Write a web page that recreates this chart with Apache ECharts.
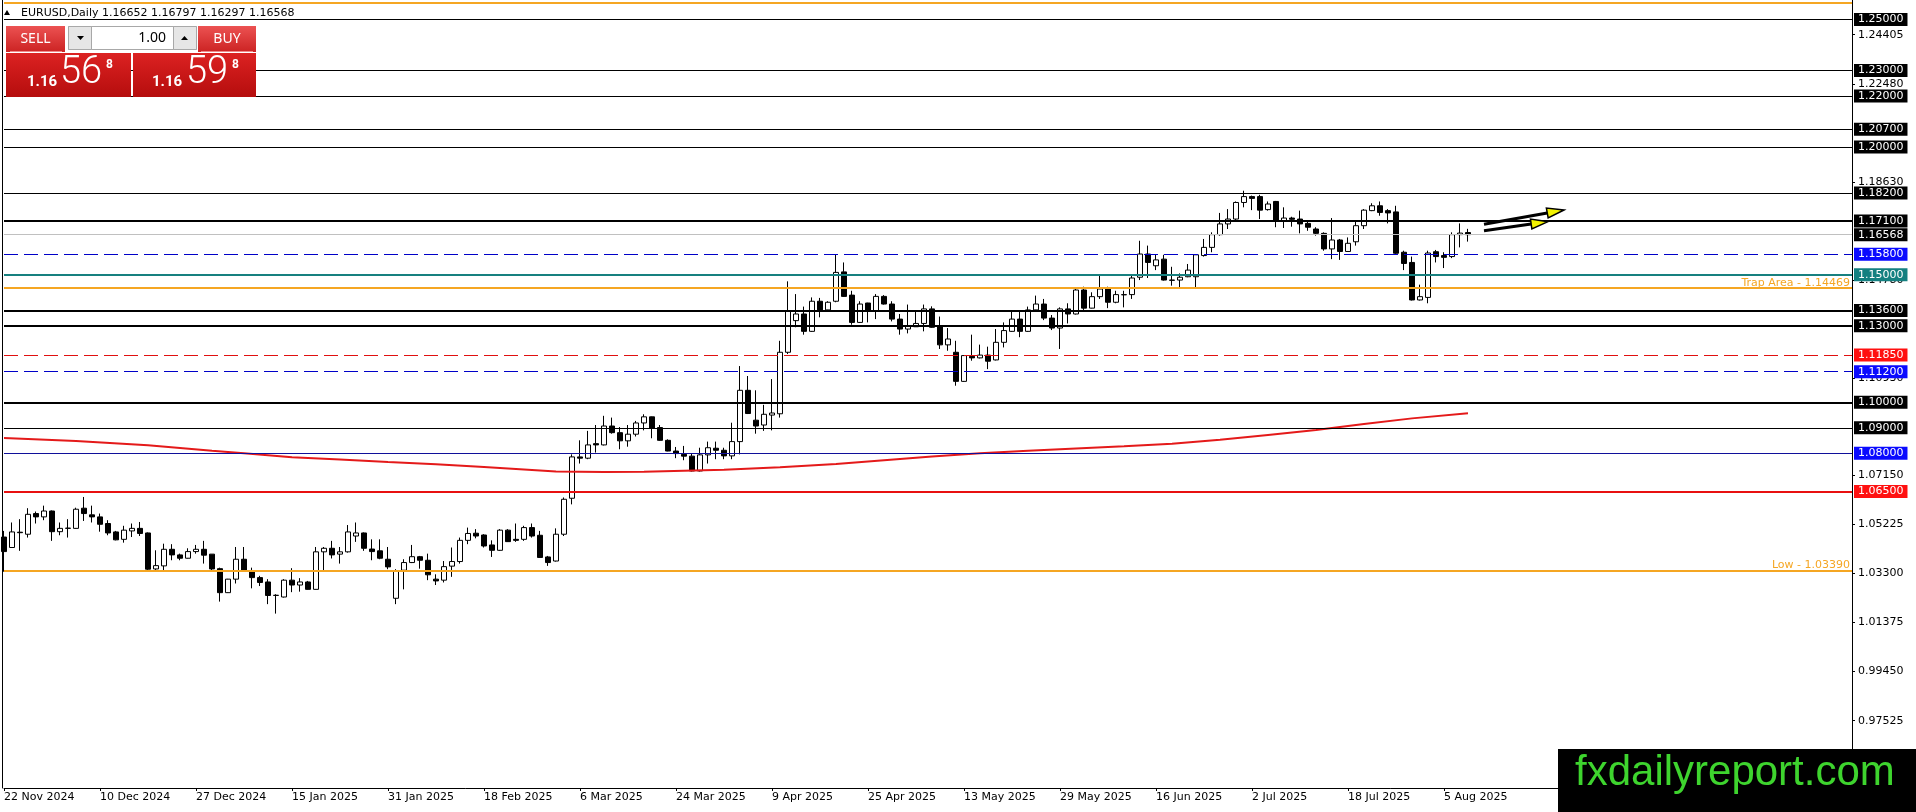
<!DOCTYPE html>
<html><head><meta charset="utf-8">
<script src="https://cdn.jsdelivr.net/npm/echarts@6/dist/echarts.min.js"></script>
<style>html,body{margin:0;padding:0;background:#fff;overflow:hidden}#c{width:1916px;height:812px}</style>
</head><body><div id="c"></div>
<script>
// ---------- data ----------
const dateLabels = ['22 Nov 2024','10 Dec 2024','27 Dec 2024','15 Jan 2025','31 Jan 2025','18 Feb 2025','6 Mar 2025','24 Mar 2025','9 Apr 2025','25 Apr 2025','13 May 2025','29 May 2025','16 Jun 2025','2 Jul 2025','18 Jul 2025','5 Aug 2025'];
const labelEvery = 12;
const slotCount = 232;

const opens = [1.0472,1.0431,1.0491,1.0483,1.0564,1.0551,1.0574,1.0493,1.0506,1.0506,
1.0585,1.0559,1.0551,1.0525,1.0492,1.0463,1.0496,1.0506,1.0488,1.0347,
1.0359,1.0424,1.0402,1.0389,1.0415,1.0424,1.0405,1.0348,1.0254,1.0307,
1.0385,1.0335,1.0313,1.0296,1.0243,1.0237,1.0303,1.0284,1.0296,1.0267,
1.0414,1.0428,1.0405,1.0414,1.0476,1.0488,1.0425,1.0418,1.0385,1.0232,
1.0342,1.0372,1.0395,1.0381,1.0307,1.0303,1.0358,1.0376,1.0459,1.0487,
1.0480,1.0441,1.0420,1.0499,1.0463,1.0463,1.0509,1.0479,1.0394,1.0378,
1.0483,1.0624,1.0786,1.0781,1.0838,1.0833,1.0907,1.0881,1.0849,1.0875,
1.0919,1.0943,1.0901,1.0851,1.0809,1.0796,1.0789,1.0731,1.0794,1.0820,
1.0812,1.0790,1.0846,1.1047,1.0930,1.0911,1.0950,1.0955,1.1196,1.1320,
1.1346,1.1278,1.1396,1.1362,1.1396,1.1511,1.1420,1.1313,1.1389,1.1359,
1.1415,1.1385,1.1326,1.1287,1.1296,1.1309,1.1366,1.1296,1.1225,1.1196,
1.1082,1.1180,1.1174,1.1185,1.1166,1.1235,1.1278,1.1326,1.1278,1.1362,
1.1385,1.1330,1.1291,1.1366,1.1346,1.1440,1.1369,1.1414,1.1444,1.1392,
1.1421,1.1422,1.1490,1.1581,1.1535,1.1561,1.1479,1.1479,1.1492,1.1492,
1.1575,1.1607,1.1657,1.1699,1.1718,1.1783,1.1806,1.1806,1.1755,1.1787,
1.1712,1.1722,1.1718,1.1701,1.1679,1.1662,1.1601,1.1636,1.1591,1.1629,
1.1692,1.1751,1.1770,1.1751,1.1746,1.1588,1.1548,1.1401,1.1411,1.1590,
1.1575,1.1571,1.1657,1.16652];

const highs = [1.0496,1.0529,1.0542,1.0585,1.0572,1.0595,1.0576,1.0529,1.0542,1.0587,
1.0629,1.0595,1.0564,1.0538,1.0496,1.0516,1.0525,1.0531,1.0490,1.0420,
1.0446,1.0444,1.0407,1.0428,1.0441,1.0457,1.0405,1.0352,1.0308,1.0433,
1.0433,1.0352,1.0320,1.0307,1.0248,1.0307,1.0350,1.0311,1.0300,1.0433,
1.0433,1.0457,1.0433,1.0519,1.0529,1.0490,1.0463,1.0463,1.0433,1.0346,
1.0385,1.0441,1.0398,1.0407,1.0326,1.0378,1.0431,1.0470,1.0509,1.0503,
1.0483,1.0459,1.0503,1.0503,1.0525,1.0516,1.0525,1.0496,1.0398,1.0506,
1.0627,1.0796,1.0851,1.0888,1.0911,1.0947,1.0940,1.0903,1.0911,1.0927,
1.0953,1.0944,1.0911,1.0855,1.0825,1.0829,1.0799,1.0822,1.0846,1.0846,
1.0822,1.0920,1.1142,1.1103,1.1047,1.0990,1.1091,1.1241,1.1474,1.1424,
1.1375,1.1411,1.1409,1.1396,1.1578,1.1548,1.1437,1.1396,1.1390,1.1424,
1.1420,1.1396,1.1346,1.1383,1.1356,1.1383,1.1376,1.1336,1.1291,1.1241,
1.1184,1.1265,1.1226,1.1218,1.1287,1.1313,1.1359,1.1359,1.1375,1.1418,
1.1405,1.1342,1.1372,1.1388,1.1450,1.1453,1.1431,1.1496,1.1453,1.1437,
1.1437,1.1496,1.1633,1.1614,1.1578,1.1578,1.1531,1.1505,1.1542,1.1580,
1.1640,1.1666,1.1742,1.1757,1.1787,1.1829,1.1810,1.1813,1.1787,1.1789,
1.1764,1.1727,1.1751,1.1714,1.1686,1.1666,1.1722,1.1640,1.1646,1.1712,
1.1757,1.1780,1.1787,1.1757,1.1770,1.1594,1.1571,1.1461,1.1594,1.1597,
1.1588,1.1666,1.1701,1.16797];

const lows = [1.0336,1.0430,1.0418,1.0470,1.0525,1.0538,1.0457,1.0479,1.0470,1.0505,
1.0535,1.0529,1.0493,1.0479,1.0459,1.0450,1.0472,1.0476,1.0342,1.0343,
1.0342,1.0381,1.0381,1.0388,1.0407,1.0368,1.0339,1.0219,1.0253,1.0290,
1.0337,1.0271,1.0280,1.0209,1.0172,1.0235,1.0256,1.0258,1.0266,1.0266,
1.0339,1.0388,1.0368,1.0411,1.0453,1.0418,1.0381,1.0385,1.0346,1.0209,
1.0267,1.0370,1.0348,1.0303,1.0284,1.0294,1.0316,1.0368,1.0444,1.0467,
1.0431,1.0394,1.0418,1.0453,1.0453,1.0457,1.0470,1.0390,1.0359,1.0376,
1.0476,1.0600,1.0760,1.0777,1.0803,1.0831,1.0877,1.0816,1.0826,1.0866,
1.0890,1.0859,1.0849,1.0808,1.0781,1.0773,1.0729,1.0729,1.0760,1.0777,
1.0777,1.0777,1.0796,1.0954,1.0877,1.0888,1.0890,1.0940,1.1189,1.1294,
1.1265,1.1276,1.1333,1.1360,1.1392,1.1413,1.1304,1.1311,1.1313,1.1326,
1.1383,1.1317,1.1265,1.1270,1.1295,1.1278,1.1292,1.1209,1.1202,1.1065,
1.1080,1.1163,1.1172,1.1130,1.1164,1.1215,1.1276,1.1255,1.1276,1.1360,
1.1322,1.1283,1.1209,1.1309,1.1344,1.1362,1.1368,1.1405,1.1369,1.1388,
1.1372,1.1405,1.1479,1.1487,1.1518,1.1477,1.1457,1.1450,1.1490,1.1450,
1.1571,1.1588,1.1653,1.1679,1.1714,1.1764,1.1753,1.1718,1.1751,1.1686,
1.1683,1.1688,1.1662,1.1672,1.1653,1.1594,1.1561,1.1558,1.1590,1.1614,
1.1679,1.1749,1.1731,1.1701,1.1581,1.1518,1.1399,1.1399,1.1388,1.1548,
1.1526,1.1565,1.1607,1.16297];

const closes = [1.0415,1.0492,1.0489,1.0561,1.0551,1.0574,1.0493,1.0506,1.0507,1.0581,
1.0564,1.0551,1.0522,1.0488,1.0461,1.0499,1.0506,1.0486,1.0346,1.0360,
1.0424,1.0402,1.0389,1.0415,1.0424,1.0401,1.0347,1.0254,1.0307,1.0385,
1.0339,1.0313,1.0294,1.0243,1.0244,1.0303,1.0284,1.0296,1.0267,1.0414,
1.0428,1.0402,1.0414,1.0492,1.0488,1.0428,1.0415,1.0389,1.0355,1.0339,
1.0372,1.0395,1.0381,1.0324,1.0300,1.0356,1.0376,1.0459,1.0486,1.0476,
1.0437,1.0420,1.0499,1.0454,1.0459,1.0509,1.0476,1.0392,1.0372,1.0483,
1.0620,1.0786,1.0781,1.0833,1.0833,1.0907,1.0881,1.0849,1.0875,1.0919,
1.0943,1.0898,1.0851,1.0809,1.0799,1.0789,1.0731,1.0794,1.0822,1.0812,
1.0790,1.0846,1.1047,1.0956,1.0907,1.0953,1.0958,1.1196,1.1359,1.1346,
1.1278,1.1396,1.1362,1.1392,1.1509,1.1415,1.1313,1.1385,1.1359,1.1415,
1.1385,1.1326,1.1287,1.1298,1.1309,1.1366,1.1294,1.1225,1.1248,1.1082,
1.1183,1.1174,1.1185,1.1161,1.1235,1.1281,1.1326,1.1278,1.1362,1.1385,
1.1330,1.1291,1.1366,1.1346,1.1440,1.1369,1.1414,1.1444,1.1392,1.1422,
1.1422,1.1487,1.1581,1.1548,1.1558,1.1479,1.1478,1.1490,1.1518,1.1578,
1.1607,1.1657,1.1699,1.1718,1.1783,1.1806,1.1799,1.1753,1.1777,1.1712,
1.1722,1.1717,1.1699,1.1686,1.1662,1.1601,1.1636,1.1591,1.1623,1.1692,
1.1753,1.1770,1.1744,1.1742,1.1584,1.1544,1.1401,1.1414,1.1585,1.1571,
1.1568,1.1657,1.1663,1.16568];

// moving average read at sample bars: [barIndex, value]
const maPoints = [[0,1.0860],[9,1.0848],[18,1.0832],[26,1.0810],[30,1.0800],[36,1.0785],[42,1.0776],[48,1.0766],[54,1.0757],[60,1.0746],[66,1.0735],[69,1.0729],[75,1.0727],[80,1.0728],[85,1.0732],[90,1.0736],[97,1.0745],[104,1.0758],[110,1.0773],[116,1.0788],[122,1.0800],[128,1.0810],[134,1.0819],[140,1.0828],[146,1.0838],[152,1.0853],[158,1.0872],[164,1.0891],[170,1.0915],[176,1.0937],[183,1.0957]];

const yTickValues = [1.24405,1.22480,1.18630,1.14780,1.10930,1.07150,1.05225,1.03300,1.01375,0.99450,0.97525];
const yMin = 0.94886, yMax = 1.25764;

const levelPrices = [1.2564,1.25,1.23,1.22,1.207,1.20,1.182,1.171,1.16568,1.158,1.15,1.14469,1.136,1.13,1.1185,1.112,1.10,1.09,1.08,1.065,1.0339];
const levelKinds  = ['orange','black1','black1','black1','black1','black1','black1','black2','grey','blueDash','teal','orangeText','black2','black2','redDash','blueDash','black2','black1','navy','red2','orangeText'];
const levelTexts  = ['','','','','','','','','','','','Trap Area - 1.14469','','','','','','','','','Low - 1.03390'];

// arrows: [fromBar, fromPrice, toBar, toPrice]
const arrowData = [[185,1.16975,195,1.17535],[185,1.16724,193,1.17077]];

const headerText = 'EURUSD,Daily 1.16652 1.16797 1.16297 1.16568';

// ---------- styles ----------
const FONT = 'DejaVu Sans';
const kindStyle = {
  black1:{line:'#000000',width:1,type:'solid',box:'#000000'},
  black2:{line:'#000000',width:2,type:'solid',box:'#000000'},
  grey:{line:'#c0c0c0',width:1,type:'solid',box:'#000000'},
  blueDash:{line:'#0000c8',width:1,type:[14,6],box:'#0a0aff'},
  teal:{line:'#17807f',width:2,type:'solid',box:'#148080'},
  redDash:{line:'#e01010',width:1,type:[14,6],box:'#ff1010'},
  navy:{line:'#10109a',width:1,type:'solid',box:'#0a0aff'},
  red2:{line:'#e81010',width:2,type:'solid',box:'#ff1010'},
  orange:{line:'#f5a623',width:2,type:'solid',box:null},
  orangeText:{line:'#f5a623',width:2,type:'solid',box:null}
};

const cats = Array.from({length: slotCount}, (_, i) => String(i));
const candleData = opens.map((o, i) => [o, closes[i], lows[i], highs[i]]);
const labelInterval = (i) => i % labelEvery === 0 && (i / labelEvery) < dateLabels.length;

const markData = levelPrices.map((p, i) => {
  const s = kindStyle[levelKinds[i]];
  const item = {yAxis: p, lineStyle:{color:s.line, width:s.width, type:s.type}};
  if (s.box) {
    item.label = {show:true, position:'end', distance:2, formatter: p.toFixed(5),
      backgroundColor:s.box, color:'#fff', padding:[1,4,0,4], fontFamily:FONT, fontSize:11, lineHeight:12};
  } else if (levelTexts[i]) {
    item.label = {show:true, position:'insideEndTop', distance:[2,0], formatter: levelTexts[i],
      color:s.line, fontFamily:FONT, fontSize:11};
  } else {
    item.label = {show:false};
  }
  return item;
});

const chart = echarts.init(document.getElementById('c'), null, {renderer:'canvas'});

const redBtn = () => new echarts.graphic.LinearGradient(0,0,0,1,[{offset:0,color:'#ec5252'},{offset:1,color:'#cc2323'}]);
const redBox = () => new echarts.graphic.LinearGradient(0,0,0,1,[{offset:0,color:'#dc2222'},{offset:1,color:'#b50d0d'}]);

const graphics = [
  // header
  {type:'polygon', shape:{points:[[4,15],[10,15],[7,10]]}, style:{fill:'#000'}, z:100},
  {type:'text', style:{x:21, y:13, text:headerText, font:'11px "DejaVu Sans"', fill:'#000', verticalAlign:'middle'}, z:100},
  // trade panel
  {type:'rect', shape:{x:6,y:26,width:59,height:26}, style:{fill:redBtn()}, z:100},
  {type:'line', shape:{x1:10,y1:51.5,x2:62,y2:51.5}, style:{stroke:'#f08a8a',lineWidth:1}, z:101},
  {type:'text', style:{x:35.5, y:39, text:'SELL', font:'14px "Noto Sans"', fill:'#fff', align:'center', verticalAlign:'middle'}, z:101},
  {type:'rect', shape:{x:68.5,y:26.5,width:128,height:23}, style:{fill:'#fff', stroke:'#a8a8a8', lineWidth:1}, z:100},
  {type:'rect', shape:{x:68.5,y:26.5,width:23,height:23}, style:{fill:'#e6e6e6', stroke:'#a8a8a8', lineWidth:1}, z:101},
  {type:'rect', shape:{x:173.5,y:26.5,width:23,height:23}, style:{fill:'#e6e6e6', stroke:'#a8a8a8', lineWidth:1}, z:101},
  {type:'polygon', shape:{points:[[77,36],[84,36],[80.5,40]]}, style:{fill:'#000'}, z:102},
  {type:'polygon', shape:{points:[[181,40],[188,40],[184.5,36]]}, style:{fill:'#000'}, z:102},
  {type:'text', style:{x:166, y:38, text:'1.00', font:'14px "Noto Sans"', fill:'#000', align:'right', verticalAlign:'middle'}, z:102},
  {type:'rect', shape:{x:198,y:26,width:58,height:26}, style:{fill:redBtn()}, z:100},
  {type:'line', shape:{x1:201,y1:51.5,x2:253,y2:51.5}, style:{stroke:'#f08a8a',lineWidth:1}, z:101},
  {type:'text', style:{x:227, y:39, text:'BUY', font:'14px "Noto Sans"', fill:'#fff', align:'center', verticalAlign:'middle'}, z:101},
  {type:'rect', shape:{x:6,y:53,width:125,height:44}, style:{fill:redBox()}, z:100},
  {type:'rect', shape:{x:133,y:53,width:123,height:44}, style:{fill:redBox()}, z:100},
  {type:'text', style:{x:27, y:82.5, text:'1.16', font:'bold 15px Roboto', fill:'#fff', verticalAlign:'middle'}, z:101},
  {type:'text', style:{x:60, y:73, text:'56', font:'300 38px Roboto', fill:'#fff', verticalAlign:'middle'}, z:101},
  {type:'text', style:{x:106, y:65, text:'8', font:'bold 12px Roboto', fill:'#fff', verticalAlign:'middle'}, z:101},
  {type:'text', style:{x:152, y:82.5, text:'1.16', font:'bold 15px Roboto', fill:'#fff', verticalAlign:'middle'}, z:101},
  {type:'text', style:{x:186, y:73, text:'59', font:'300 38px Roboto', fill:'#fff', verticalAlign:'middle'}, z:101},
  {type:'text', style:{x:232, y:65, text:'8', font:'bold 12px Roboto', fill:'#fff', verticalAlign:'middle'}, z:101},
  // watermark
  {type:'rect', shape:{x:1558,y:749,width:358,height:63}, style:{fill:'#000'}, z:200},
  {type:'text', style:{x:1575, y:773, text:'fxdailyreport.com', font:'42px "Liberation Sans", Arial, sans-serif', fill:'#3ed42e', verticalAlign:'middle'}, z:201}
];

const option = {
  animation:false,
  backgroundColor:'#fff',
  grid:{left:4, right:64, top:0, bottom:24, containLabel:false},
  xAxis:{
    type:'category', data:cats, boundaryGap:false,
    axisLine:{show:true, onZero:false, lineStyle:{color:'#000', width:1}},
    axisTick:{show:true, length:3, interval:labelInterval, lineStyle:{color:'#000'}},
    axisLabel:{interval:labelInterval, formatter:(v, i) => dateLabels[i / labelEvery] || '', align:'left',
      color:'#000', fontFamily:FONT, fontSize:11, margin:4},
    splitLine:{show:false}
  },
  yAxis:[{
    type:'value', position:'right', min:yMin, max:yMax, scale:true,
    splitLine:{show:false},
    axisLine:{show:true, lineStyle:{color:'#000', width:1}},
    axisTick:{show:true, length:3, customValues:yTickValues, lineStyle:{color:'#000'}},
    axisLabel:{customValues:yTickValues, formatter:(v) => Number(v).toFixed(5), color:'#000', fontFamily:FONT, fontSize:11, margin:6}
  },{
    type:'value', position:'left', offset:2, min:yMin, max:yMax, scale:true,
    splitLine:{show:false}, axisTick:{show:false}, axisLabel:{show:false},
    axisLine:{show:true, lineStyle:{color:'#000', width:1}}
  }],
  series:[
    {type:'candlestick', data:candleData, barWidth:5, silent:true, clip:false, z:2,
      itemStyle:{color:'#fff', color0:'#000', borderColor:'#000', borderColor0:'#000', borderWidth:1}},
    {type:'line', data:maPoints, showSymbol:false, silent:true, clip:false, z:3,
      lineStyle:{color:'#e41a1a', width:2}},
    {type:'line', data:[], silent:true, z:4,
      markLine:{silent:true, precision:5, symbol:['none','none'], animation:false, data:markData}},
    {type:'custom', data:arrowData, silent:true, z:5,
      renderItem:(params, api) => {
        const p1 = api.coord([api.value(0), api.value(1)]);
        const p2 = api.coord([api.value(2), api.value(3)]);
        const dx = p2[0]-p1[0], dy = p2[1]-p1[1], len = Math.hypot(dx, dy);
        const ux = dx/len, uy = dy/len, hl = 17, hw = 5;
        const b = [p2[0]-ux*hl, p2[1]-uy*hl];
        const l = [b[0]-uy*hw, b[1]+ux*hw], r = [b[0]+uy*hw, b[1]-ux*hw];
        return {type:'group', children:[
          {type:'line', shape:{x1:p1[0], y1:p1[1], x2:b[0], y2:b[1]}, style:{stroke:'#000', lineWidth:3}},
          {type:'polygon', shape:{points:[p2, l, r]}, style:{fill:'#f2f200', stroke:'#000', lineWidth:1.5}}
        ]};
      }}
  ],
  graphic: graphics
};
chart.setOption(option);
</script>
</body></html>
